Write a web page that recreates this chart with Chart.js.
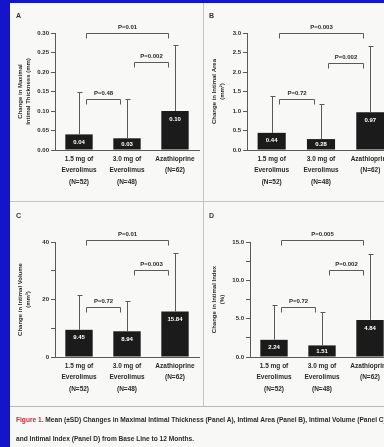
<!DOCTYPE html>
<html>
<head>
<meta charset="utf-8">
<script src="https://cdn.jsdelivr.net/npm/chart.js@4.4.1/dist/chart.umd.min.js"></script>
<style>
    html, body { margin: 0; padding: 0; }
    body { width: 384px; height: 447px; overflow: hidden; background: #1414c8; position: relative; font-family: 'Liberation Sans Narrow', 'Liberation Sans', sans-serif; }
    #fig { position: absolute; left: 10px; top: 3px; width: 380px; height: 444px; background: #f8f8f6; }
    canvas { position: absolute; }
    .vline { position: absolute; left: 203px; top: 3px; width: 1px; height: 404px; background: #c4c4c4; }
    .hline { position: absolute; left: 10px; width: 374px; height: 1px; background: #c4c4c4; }
    .letter { position: absolute; font-size: 7px; font-weight: bold; color: #333; }
    #caption { position: absolute; left: 16px; top: 410px; width: 420px; font-size: 6.6px; font-weight: bold; line-height: 19px; color: #2a2a2a; white-space: nowrap; }
    #caption b { color: #d2283c; }
</style>
</head>
<body>
<div id="fig"></div>
<canvas id="chartA" width="193" height="199" style="left:10px; top:3px"></canvas>
<canvas id="chartB" width="200" height="199" style="left:204px; top:3px"></canvas>
<canvas id="chartC" width="193" height="205" style="left:10px; top:202px"></canvas>
<canvas id="chartD" width="200" height="205" style="left:204px; top:202px"></canvas>
<div class="vline"></div>
<div class="hline" style="top:201px"></div>
<div class="hline" style="top:406px; background:#b8b8b8"></div>
<div class="letter" style="left:16px; top:12px">A</div>
<div class="letter" style="left:209px; top:12px">B</div>
<div class="letter" style="left:16px; top:212px">C</div>
<div class="letter" style="left:209px; top:212px">D</div>
<div id="caption"><b>Figure 1.</b> Mean (±SD) Changes in Maximal Intimal Thickness (Panel A), Intimal Area (Panel B), Intimal Volume (Panel C),<br>and Intimal Index (Panel D) from Base Line to 12 Months.</div>

<script>
// groups on the x axis
const groups = [
    ['1.5 mg of', 'Everolimus', '(N=52)'],
    ['3.0 mg of', 'Everolimus', '(N=48)'],
    ['Azathioprine', '(N=62)']
];

// Panel A - maximal intimal thickness (mm)
const thicknessMean = [0.04, 0.03, 0.10];
const thicknessSD = [0.11, 0.10, 0.17];
const thicknessTicks = [0, 0.05, 0.10, 0.15, 0.20, 0.25, 0.30];
const thicknessTickLabels = ['0.00', '0.05', '0.10', '0.15', '0.20', '0.25', '0.30'];
const thicknessBrackets = [[0, 2, 0.30, 'P=0.01'], [1, 2, 0.225, 'P=0.002'], [0, 1, 0.13, 'P=0.48']];

// Panel B - intimal area (mm2)
const areaMean = [0.44, 0.28, 0.97];
const areaSD = [0.95, 0.90, 1.70];
const areaTicks = [0, 0.5, 1.0, 1.5, 2.0, 2.5, 3.0];
const areaTickLabels = ['0.0', '0.5', '1.0', '1.5', '2.0', '2.5', '3.0'];
const areaBrackets = [[0, 2, 3.0, 'P=0.003'], [1, 2, 2.24, 'P=0.002'], [0, 1, 1.3, 'P=0.72']];

// Panel C - intimal volume (mm3)
const volumeMean = [9.45, 8.94, 15.84];
const volumeSD = [12.2, 10.6, 20.2];
const volumeTicks = [0, 10, 20, 30, 40];
const volumeTickLabels = ['0', '', '20', '', '40'];
const volumeBrackets = [[0, 2, 40.6, 'P=0.01'], [1, 2, 30.2, 'P=0.003'], [0, 1, 17.5, 'P=0.72']];

// Panel D - intimal index (%)
const indexMean = [2.24, 1.51, 4.84];
const indexSD = [4.54, 4.41, 8.66];
const indexTicks = [0, 2.5, 5, 7.5, 10, 12.5, 15];
const indexTickLabels = ['0.0', '', '5.0', '', '10.0', '', '15.0'];
const indexBrackets = [[0, 2, 15.2, 'P=0.005'], [1, 2, 11.3, 'P=0.002'], [0, 1, 6.56, 'P=0.72']];

const FONT = "'Liberation Sans Narrow', 'Liberation Sans', sans-serif";
const INK = '#2a2a2a';
const LINE = '#5a5a5a';

// error bars, values inside the bars and P-value brackets
const annot = {
    id: 'annot',
    afterDatasetsDraw(chart, args, opts) {
        const ctx = chart.ctx;
        const y = chart.scales.y;
        const bars = chart.getDatasetMeta(0).data;
        ctx.save();
        ctx.strokeStyle = LINE;
        ctx.lineWidth = 1;

        opts.mean.forEach((m, i) => {
            const px = Math.round(bars[i].x) + 0.5;
            const y0 = y.getPixelForValue(m);
            const y1 = Math.round(y.getPixelForValue(m + opts.sd[i])) + 0.5;
            ctx.beginPath();
            ctx.moveTo(px, y0);
            ctx.lineTo(px, y1);
            ctx.moveTo(px - 2, y1);
            ctx.lineTo(px + 3, y1);
            ctx.stroke();
        });

        ctx.fillStyle = '#ffffff';
        ctx.font = 'bold 6px ' + FONT;
        ctx.textAlign = 'center';
        ctx.textBaseline = 'middle';
        opts.mean.forEach((m, i) => {
            const top = y.getPixelForValue(m);
            const h = y.getPixelForValue(0) - top;
            ctx.fillText(m.toFixed(2), bars[i].x, top + Math.min(h / 2, 8));
        });

        ctx.fillStyle = INK;
        ctx.font = 'bold 6px ' + FONT;
        ctx.textBaseline = 'bottom';
        opts.brackets.forEach(([a, b, level, label]) => {
            const xl = Math.round(bars[a].x + 7) + 0.5;
            const xr = Math.round(bars[b].x - 7) + 0.5;
            const yy = Math.round(y.getPixelForValue(level)) + 0.5;
            ctx.beginPath();
            ctx.moveTo(xl, yy + 5);
            ctx.lineTo(xl, yy);
            ctx.lineTo(xr, yy);
            ctx.lineTo(xr, yy + 5);
            ctx.stroke();
            ctx.fillText(label, (xl + xr) / 2, yy - 3);
        });
        ctx.restore();
    }
};

function makePanel(id, p) {
    return new Chart(document.getElementById(id), {
        type: 'bar',
        data: {
            labels: groups,
            datasets: [{
                data: p.mean,
                backgroundColor: '#1b1b1b',
                categoryPercentage: 1,
                barPercentage: 0.57
            }]
        },
        options: {
            responsive: false,
            animation: false,
            layout: { padding: { top: p.top, right: p.right, left: 0, bottom: 0 } },
            plugins: {
                legend: { display: false },
                tooltip: { enabled: false },
                annot: { mean: p.mean, sd: p.sd, brackets: p.brackets }
            },
            scales: {
                x: {
                    grid: { display: false, drawTicks: false },
                    border: { color: LINE },
                    ticks: { color: INK, font: { family: FONT, size: 6.5, weight: 'bold', lineHeight: 1.8 }, padding: 3, maxRotation: 0, autoSkip: false },
                    afterFit: s => { s.height = p.xh; }
                },
                y: {
                    min: 0,
                    max: p.ticks[p.ticks.length - 1],
                    afterBuildTicks: s => { s.ticks = p.ticks.map(v => ({ value: v })); },
                    grid: { drawOnChartArea: false, tickLength: 4, color: LINE },
                    border: { color: LINE },
                    ticks: {
                        color: INK,
                        font: { family: FONT, size: 6, weight: 'bold' },
                        padding: 2,
                        callback: (v, i) => p.tickLabels[i]
                    },
                    title: {
                        display: true,
                        text: p.title,
                        color: INK,
                        font: { family: FONT, size: 6, weight: 'bold', lineHeight: 1.4 },
                        padding: { top: p.titlePad, bottom: 0 }
                    },
                    afterFit: s => { s.width = p.yw; }
                }
            }
        },
        plugins: [annot]
    });
}

makePanel('chartA', {
    mean: thicknessMean, sd: thicknessSD, ticks: thicknessTicks, tickLabels: thicknessTickLabels,
    brackets: thicknessBrackets, title: ['Change in Maximal', 'Intimal Thickness (mm)'],
    top: 30, right: 4, xh: 52, yw: 45, titlePad: 6
});
makePanel('chartB', {
    mean: areaMean, sd: areaSD, ticks: areaTicks, tickLabels: areaTickLabels,
    brackets: areaBrackets, title: ['Change in Intimal Area', '(mm²)'],
    top: 30, right: 9, xh: 52, yw: 43, titlePad: 6
});
makePanel('chartC', {
    mean: volumeMean, sd: volumeSD, ticks: volumeTicks, tickLabels: volumeTickLabels,
    brackets: volumeBrackets, title: ['Change in Intimal Volume', '(mm³)'],
    top: 40, right: 4, xh: 50, yw: 45, titlePad: 6
});
makePanel('chartD', {
    mean: indexMean, sd: indexSD, ticks: indexTicks, tickLabels: indexTickLabels,
    brackets: indexBrackets, title: ['Change in Intimal Index', '(%)'],
    top: 40, right: 10, xh: 50, yw: 46, titlePad: 6
});
</script>
</body>
</html>
